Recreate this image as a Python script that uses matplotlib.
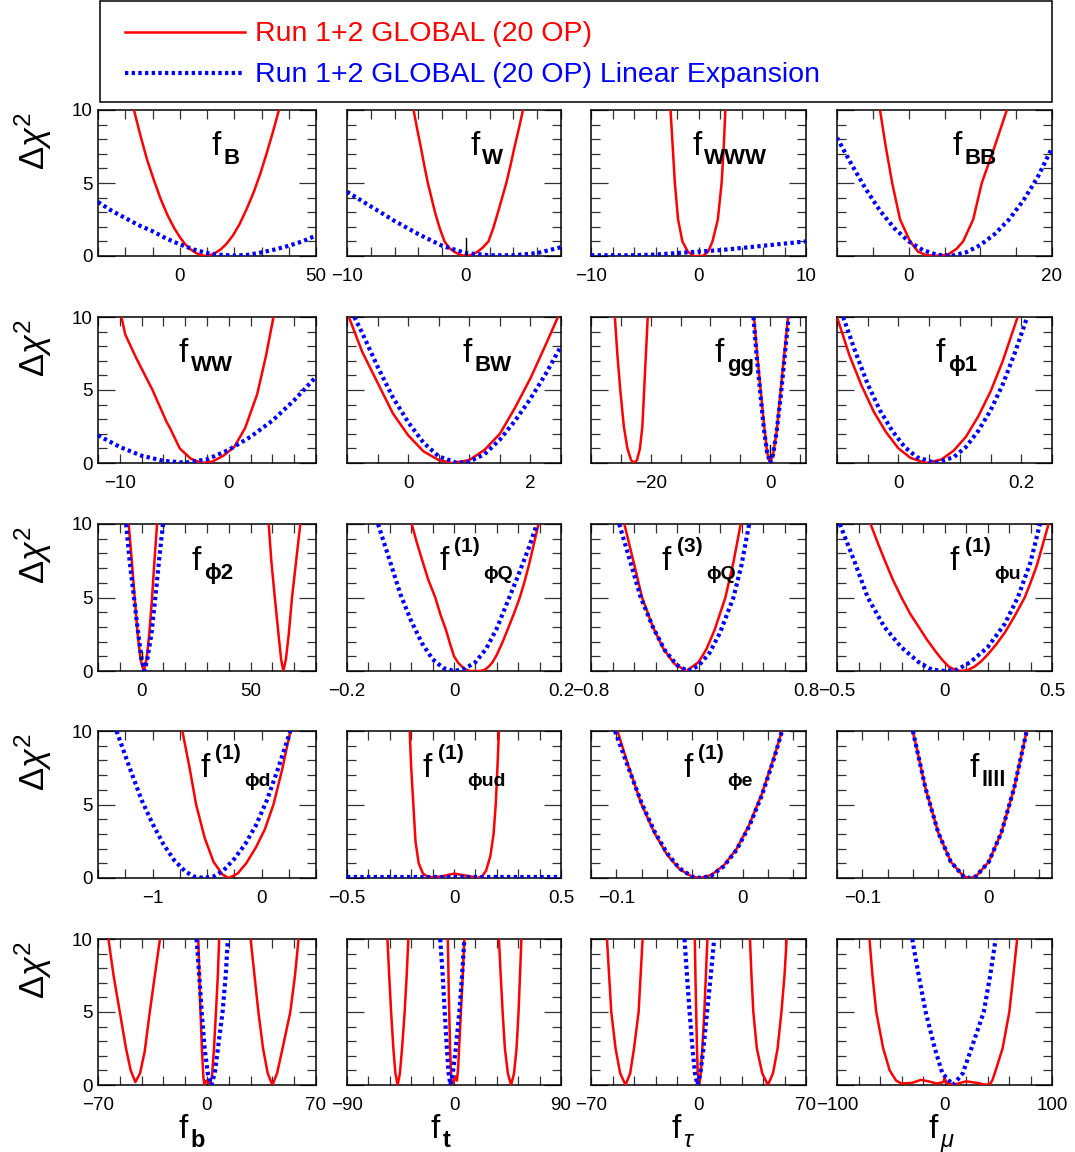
import matplotlib
matplotlib.use('Agg')
import matplotlib.pyplot as plt
from matplotlib.lines import Line2D
from matplotlib.patches import Rectangle
from matplotlib.transforms import offset_copy

plt.rcParams['font.family'] = ['Liberation Sans', 'DejaVu Sans']
plt.rcParams['mathtext.fontset'] = 'custom'
plt.rcParams['mathtext.rm'] = 'Liberation Sans'
plt.rcParams['mathtext.it'] = 'Liberation Sans:italic'
plt.rcParams['mathtext.bf'] = 'Liberation Sans:bold'
plt.rcParams['mathtext.sf'] = 'Liberation Sans'
plt.rcParams['axes.unicode_minus'] = True

RED = '#ff0000'
BLUE = '#0000ff'

# ---------------- data ----------------
legend_labels = ['Run 1+2 GLOBAL (20 OP)', 'Run 1+2 GLOBAL (20 OP) Linear Expansion']
ytick_vals = [0, 5, 10]

# 1 f_B
fB_red_x = [-16.8, -14.5, -12, -9.5, -7, -4.5, -2, 0, 2, 4, 6, 8, 9.5, 11, 13, 15, 17, 19.5, 22, 24.5, 27, 29.5, 32, 34.2, 36.4]
fB_red_y = [10, 8.3, 6.6, 5.2, 3.9, 2.8, 1.9, 1.3, 0.8, 0.45, 0.2, 0.05, 0, 0.05, 0.2, 0.45, 0.8, 1.4, 2.2, 3.2, 4.3, 5.6, 7.1, 8.5, 10]
fB_blue_x = [-30, -25, -20, -15, -10, -5, 0, 5, 10, 15, 20, 25, 30, 35, 40, 45, 50]
fB_blue_y = [3.7, 3.1, 2.6, 2.1, 1.7, 1.2, 0.8, 0.45, 0.2, 0.08, 0.03, 0.08, 0.25, 0.45, 0.7, 1.0, 1.4]
# 2 f_W
fW_red_x = [-4.4, -4.1, -3.8, -3.5, -3.2, -2.9, -2.6, -2.2, -1.8, -1.4, -1.0, -0.5, 0, 0.5, 1.0, 1.45, 1.9, 2.3, 2.7, 3.05, 3.4, 3.75, 4.1, 4.45, 4.8]
fW_red_y = [10, 8.7, 7.5, 6.2, 5, 4.0, 3, 1.9, 1, 0.55, 0.3, 0.08, 0, 0.08, 0.3, 0.6, 1, 1.9, 3, 4.0, 5, 6.2, 7.5, 8.7, 10]
fW_blue_x = [-10, -8, -6, -4, -2, 0, 2, 4, 6, 8]
fW_blue_y = [4.4, 3.4, 2.4, 1.5, 0.7, 0.2, 0.05, 0.05, 0.2, 0.6]
# 3 f_WWW
fWWW_red_x = [-2.6, -2.4, -2.2, -1.9, -1.5, -1.0, -0.4, 0.4, 0.9, 1.3, 1.8, 2.15, 2.35, 2.5]
fWWW_red_y = [10, 7.5, 5, 2.5, 1, 0.3, 0, 0, 0.3, 1, 2.5, 5, 7.5, 10]
fWWW_blue_x = [-10, -8, -6, -4, -2, 0, 2, 4, 6, 8, 10]
fWWW_blue_y = [0.05, 0.05, 0.05, 0.1, 0.2, 0.3, 0.4, 0.55, 0.7, 0.85, 1.0]
# 4 f_BB
fBB_red_x = [-4.0, -3.2, -2.3, -1.2, 0.2, 1.3, 2.5, 4.0, 5.5, 6.7, 7.6, 9.0, 10.2, 12.0, 13.7]
fBB_red_y = [10, 7.5, 5, 2.5, 1, 0.3, 0.05, 0.02, 0.1, 0.5, 1, 2.5, 5, 7.5, 10]
fBB_blue_x = [-10, -8, -6, -4, -2, 0, 2, 4, 6, 8, 10, 12, 14, 16, 18, 20]
fBB_blue_y = [8.1, 6.3, 4.6, 3.1, 1.9, 1.0, 0.4, 0.08, 0.02, 0.25, 0.75, 1.5, 2.5, 3.8, 5.4, 7.4]
# 5 f_WW
fWW_red_x = [-9.85, -9.5, -8.5, -7.0, -5.7, -5.4, -4.5, -3.5, -2.5, -1.5, -0.5, 0.5, 1.5, 2.6, 3.4, 4.1]
fWW_red_y = [10, 8.8, 7.2, 5.0, 2.8, 2.4, 1.0, 0.3, 0, 0.1, 0.5, 1.1, 2.4, 4.7, 7.3, 10]
fWW_blue_x = [-12, -10, -8, -6, -4, -2, 0, 2, 4, 6, 8]
fWW_blue_y = [1.9, 1.1, 0.5, 0.15, 0.02, 0.25, 0.9, 1.8, 2.9, 4.3, 5.9]
# 6 f_BW
fBW_red_x = [-0.97, -0.75, -0.5, -0.25, 0, 0.25, 0.5, 0.72, 1.0, 1.25, 1.5, 1.75, 2.0, 2.25, 2.45]
fBW_red_y = [10, 7.6, 5.5, 3.4, 1.9, 0.8, 0.2, 0, 0.2, 0.9, 2.0, 3.8, 5.8, 8.1, 10]
fBW_blue_x = [-0.88, -0.75, -0.5, -0.25, 0, 0.25, 0.5, 0.8, 1.0, 1.25, 1.5, 1.75, 2.0, 2.25, 2.5]
fBW_blue_y = [10, 8.9, 6.6, 4.5, 2.8, 1.4, 0.45, 0, 0.1, 0.6, 1.6, 2.9, 4.4, 6.1, 8.0]
# 7 f_gg
fgg_red1_x = [-26, -25.6, -25.1, -24.5, -23.9, -23.3, -22.8, -22.3, -21.8, -21.4, -21.1, -20.8, -20.5]
fgg_red1_y = [10, 7.5, 5, 2.5, 1, 0.2, 0, 0.2, 1, 2.5, 5, 7.5, 10]
fgg_red2_x = [-2.7, -2.2, -1.6, -1.0, -0.5, 0, 0.5, 1.1, 1.7, 2.3, 3.0]
fgg_red2_y = [10, 7.5, 5, 2.5, 0.7, 0, 0.6, 2.2, 4.7, 7.2, 10]
fgg_blue_x = [-2.8, -2.3, -1.7, -1.1, -0.5, 0, 0.5, 1.1, 1.8, 2.4, 3.1]
fgg_blue_y = [10, 7.5, 5, 2.5, 0.7, 0, 0.6, 2.2, 4.7, 7.2, 10]
# 8 f_phi1
fphi1_red_x = [-0.1, -0.08, -0.06, -0.04, -0.02, 0, 0.02, 0.045, 0.07, 0.09, 0.11, 0.13, 0.15, 0.17, 0.194]
fphi1_red_y = [10, 7.4, 5.3, 3.5, 2.1, 1.0, 0.34, 0, 0.24, 0.85, 1.8, 3.2, 4.9, 7.0, 10]
fphi1_blue_x = [-0.09, -0.07, -0.05, -0.03, -0.01, 0.01, 0.03, 0.06, 0.09, 0.11, 0.13, 0.15, 0.17, 0.19, 0.208]
fphi1_blue_y = [10, 7.6, 5.4, 3.6, 2.2, 1.1, 0.4, 0, 0.4, 1.1, 2.2, 3.6, 5.4, 7.6, 9.8]
# 9 f_phi2
fphi2_red1_x = [-5.9, -4.5, -3.2, -1.8, -0.5, 1.0, 2.3, 3.5, 4.8, 5.9, 7.1]
fphi2_red1_y = [10, 7.5, 5, 2.5, 0.8, 0, 0.8, 2.5, 5, 7.5, 10]
fphi2_red2_x = [58.3, 59.5, 61.1, 62.8, 64.0, 65.0, 66.2, 67.5, 69.0, 70.9, 72.8]
fphi2_red2_y = [10, 7.5, 5, 2.5, 0.8, 0, 0.8, 2.5, 5, 7.5, 10]
fphi2_blue_x = [-7.1, -5.5, -3.5, -1.5, 0.0, 1.3, 2.6, 4.5, 6.3, 8.0, 9.8]
fphi2_blue_y = [10, 7.5, 5, 2.5, 0.8, 0, 0.8, 2.5, 5, 7.5, 10]
# 10 f(1)_phiQ
fphiQ1_red_x = [-0.079, -0.07, -0.06, -0.048, -0.035, -0.025, -0.015, -0.007, 0.0, 0.008, 0.015, 0.022, 0.03, 0.05, 0.058, 0.065, 0.072, 0.08, 0.09, 0.1, 0.112, 0.123, 0.132, 0.14, 0.149, 0.158]
fphiQ1_red_y = [10, 8.8, 7.6, 6.2, 5, 3.8, 2.8, 1.8, 1.0, 0.55, 0.3, 0.1, 0, 0, 0.1, 0.3, 0.6, 1.1, 1.9, 2.8, 3.9, 5, 6.1, 7.2, 8.6, 10]
fphiQ1_blue_x = [-0.142, -0.12, -0.1, -0.08, -0.06, -0.04, -0.02, 0, 0.02, 0.04, 0.06, 0.08, 0.1, 0.12, 0.14, 0.155]
fphiQ1_blue_y = [10, 7.5, 5.2, 3.4, 1.9, 0.8, 0.2, 0, 0.15, 0.6, 1.5, 2.9, 4.7, 6.5, 8.4, 10]
# 11 f(3)_phiQ
fphiQ3_red_x = [-0.552, -0.48, -0.42, -0.34, -0.26, -0.18, -0.09, 0.0, 0.06, 0.12, 0.2, 0.26, 0.314]
fphiQ3_red_y = [10, 7.3, 5, 3, 1.5, 0.5, 0, 0.6, 1.5, 2.8, 5, 7.4, 10]
fphiQ3_blue_x = [-0.59, -0.5, -0.43, -0.34, -0.25, -0.16, -0.08, 0.0, 0.08, 0.16, 0.26, 0.32, 0.377]
fphiQ3_blue_y = [10, 7.2, 5, 3, 1.4, 0.4, 0, 0.35, 1.2, 2.6, 5, 7.2, 10]
# 12 f(1)_phiu
fphiu_red_x = [-0.344, -0.31, -0.28, -0.24, -0.2, -0.16, -0.12, -0.08, -0.04, -0.01, 0.02, 0.05, 0.08, 0.11, 0.14, 0.17, 0.2, 0.24, 0.28, 0.325, 0.373, 0.4, 0.43, 0.457, 0.484]
fphiu_red_y = [10, 8.7, 7.6, 6.2, 5, 3.9, 3, 2.1, 1.3, 0.75, 0.3, 0.07, 0, 0.07, 0.3, 0.65, 1.1, 1.8, 2.6, 3.7, 5, 6.0, 7.2, 8.6, 10]
fphiu_blue_x = [-0.487, -0.42, -0.357, -0.28, -0.2, -0.12, -0.06, 0, 0.06, 0.12, 0.2, 0.28, 0.341, 0.4, 0.444]
fphiu_blue_y = [10, 7.5, 5, 3, 1.6, 0.6, 0.1, 0, 0.1, 0.6, 1.6, 3.2, 5, 7.4, 10]
# 13 f(1)_phid
fphid_red_x = [-0.726, -0.66, -0.6, -0.52, -0.44, -0.36, -0.3, -0.22, -0.14, -0.05, 0.03, 0.11, 0.19, 0.265]
fphid_red_y = [10, 7.5, 5, 2.7, 1.1, 0.25, 0, 0.3, 1.0, 2.1, 3.3, 5, 7.4, 10]
fphid_blue_x = [-1.33, -1.2, -1.1, -1.0, -0.9, -0.8, -0.7, -0.62, -0.53, -0.44, -0.35, -0.25, -0.15, -0.05, 0.05, 0.15, 0.265]
fphid_blue_y = [10, 7.3, 5.3, 3.7, 2.3, 1.2, 0.45, 0.1, 0, 0.1, 0.5, 1.3, 2.3, 3.6, 5.3, 7.4, 10]
# 14 f(1)_phiud
fphiud_red_x = [-0.207, -0.2, -0.19, -0.18, -0.165, -0.145, -0.12, -0.06, 0, 0.06, 0.11, 0.13, 0.15, 0.17, 0.185, 0.195, 0.203, 0.21]
fphiud_red_y = [10, 7.5, 5, 2.5, 1, 0.3, 0.05, 0.1, 0.3, 0.15, 0.02, 0.1, 0.5, 1.5, 3.0, 5, 7.5, 10]
fphiud_blue_x = [-0.5, -0.4, -0.3, -0.2, -0.1, 0, 0.1, 0.2, 0.3, 0.4, 0.5]
fphiud_blue_y = [0.05, 0.05, 0.05, 0.05, 0.05, 0.05, 0.05, 0.05, 0.05, 0.05, 0.05]
# 15 f(1)_phie
fphie_red_x = [-0.099, -0.09, -0.08, -0.07, -0.06, -0.05, -0.04, -0.034, -0.025, -0.015, -0.005, 0.005, 0.015, 0.025, 0.031]
fphie_red_y = [10, 7.5, 5.0, 3.1, 1.6, 0.6, 0.09, 0, 0.2, 0.86, 1.96, 3.6, 5.7, 8.3, 10]
fphie_blue_x = [-0.101, -0.09, -0.08, -0.07, -0.06, -0.05, -0.04, -0.033, -0.025, -0.015, -0.005, 0.005, 0.015, 0.025, 0.031]
fphie_blue_y = [10, 7.4, 5.1, 3.2, 1.7, 0.65, 0.1, 0, 0.15, 0.8, 1.9, 3.5, 5.6, 8.2, 10]
# 16 f_llll
fllll_red_x = [-0.06, -0.05, -0.04, -0.03, -0.02, -0.015, -0.01, 0, 0.01, 0.02, 0.03]
fllll_red_y = [10, 6.1, 3.1, 1.1, 0.12, 0, 0.12, 1.1, 3.1, 6.1, 10]
fllll_blue_x = [-0.06, -0.05, -0.04, -0.03, -0.02, -0.015, -0.01, 0, 0.01, 0.02, 0.03]
fllll_blue_y = [10, 6.1, 3.1, 1.1, 0.12, 0, 0.12, 1.1, 3.1, 6.1, 10]
# 17 f_b
fb_red1_x = [-63.3, -60, -56, -52, -49, -46, -43, -40, -37, -33.5, -30.2]
fb_red1_y = [10, 7.5, 5, 2.5, 1.0, 0.2, 0.8, 2.3, 4.8, 7.5, 10]
fb_red2_x = [-5.6, -4.5, -3.3, -2.3, -1.6, -0.5, 0.5, 2.0, 3.2, 4.5, 6.0, 7.0, 7.8]
fb_red2_y = [10, 6, 2.5, 0.5, 0, 0.3, 0.2, 0.1, 0.6, 2.5, 5.5, 7.6, 10]
fb_red3_x = [28, 30.5, 33, 36, 39, 42, 45, 48.5, 53.5, 56.5, 58.8]
fb_red3_y = [10, 7.5, 5, 2.5, 0.8, 0, 0.8, 2.5, 5, 7.5, 10]
fb_blue_x = [-6.7, -5.0, -3.4, -1.5, 0.5, 2.7, 5.0, 7.0, 10.0, 12.0, 13.4]
fb_blue_y = [10, 7.5, 5, 2.5, 0.8, 0, 0.8, 2.5, 5, 7.5, 10]
# 18 f_t
ft_red1_x = [-56, -54.5, -52.9, -51, -49.3, -47.4, -45.5, -43.7, -41.5, -39.8, -38.4]
ft_red1_y = [10, 7.5, 5, 2.5, 0.8, 0, 0.8, 2.5, 5, 7.5, 10]
ft_red2_x = [-5.2, -4.3, -3.3, -2.3, -1.5, 0, 1.5, 2.5, 3.5, 5.5, 7.3, 8.7]
ft_red2_y = [10, 6, 2.5, 0.5, 0, 0.3, 0.6, 0.3, 1.2, 4.5, 7.5, 10]
ft_red3_x = [37.8, 39.3, 40.9, 42.8, 45.3, 48, 50.5, 52.6, 54.3, 55.5, 56.7]
ft_red3_y = [10, 7.5, 5, 2.5, 0.8, 0, 0.8, 2.5, 5, 7.5, 10]
ft_blue_x = [-11.6, -9.5, -7.8, -6, -4.5, -3, -1, 1.5, 4.5, 6.8, 8.7]
ft_blue_y = [10, 7.5, 5, 2.5, 0.8, 0, 0.8, 2.5, 5, 7.5, 10]
# 19 f_tau
ftau_red1_x = [-59.6, -58.2, -56.8, -54, -51, -47.5, -44.5, -42, -39, -37.7, -36.4]
ftau_red1_y = [10, 7.5, 5, 2.5, 0.8, 0, 0.8, 2.5, 5, 7.5, 10]
ftau_red2_x = [-2.4, -2.0, -1.5, -1.0, -0.5, 0.5, 1.5, 2.5, 3.8, 4.8, 5.8]
ftau_red2_y = [10, 7.5, 5, 2.5, 0.8, 0, 0.8, 2.5, 5, 7.5, 10]
ftau_red3_x = [33.5, 34.5, 35.7, 38, 41.5, 45.2, 48.5, 51.5, 54, 56, 57.4]
ftau_red3_y = [10, 7.5, 5, 2.5, 0.8, 0, 0.8, 2.5, 5, 7.5, 10]
ftau_blue_x = [-9.1, -7.5, -5.8, -3.9, -2.3, -0.7, 1.2, 3.2, 5.6, 8.0, 10.2]
ftau_blue_y = [10, 7.5, 5, 2.5, 0.8, 0, 0.8, 2.5, 5, 7.5, 10]
# 20 f_mu
fmu_red_x = [-69.8, -67, -63.5, -57, -51, -45, -40, -30, -22, -15, -7, -1, 0, 2, 10, 20, 30, 38, 42, 44.4, 47.6, 54, 60.3, 64, 67.6]
fmu_red_y = [10, 7.5, 5, 2.5, 1, 0.3, 0.1, 0.15, 0.35, 0.25, 0.1, 0.2, 0.5, 0.1, 0.05, 0.25, 0.15, 0.02, 0.05, 0.3, 1, 2.5, 5, 7.5, 10]
fmu_blue_x = [-30, -24, -17.5, -9, -2, 8, 17, 25, 36.5, 42.5, 47.6]
fmu_blue_y = [10, 7.5, 5, 2.5, 0.8, 0, 0.8, 2.5, 5, 7.5, 10]

# small black marks at the origin (panel index, x, y_low, y_high)
origin_marks = [(1, 0, 0, 1.2), (6, 0, 0.45, 1.25), (8, 0, 0.85, 1.3)]

M = '\u2212'
PHI = '\u03d5'
panels = [
    dict(sub='B', tx=0.52, xlim=(-30, 50), step=10, lab=[(0, '0'), (50, '50')],
         red=[(fB_red_x, fB_red_y)], blue=[(fB_blue_x, fB_blue_y)]),
    dict(sub='W', tx=0.575, xlim=(-10, 8), step=2, lab=[(-10, M + '10'), (0, '0')],
         red=[(fW_red_x, fW_red_y)], blue=[(fW_blue_x, fW_blue_y)]),
    dict(sub='WWW', tx=0.47, xlim=(-10, 10), step=2, lab=[(-10, M + '10'), (0, '0'), (10, '10')],
         red=[(fWWW_red_x, fWWW_red_y)], blue=[(fWWW_blue_x, fWWW_blue_y)]),
    dict(sub='BB', tx=0.535, xlim=(-10, 20), step=5, lab=[(0, '0'), (20, '20')],
         red=[(fBB_red_x, fBB_red_y)], blue=[(fBB_blue_x, fBB_blue_y)]),
    dict(sub='WW', tx=0.37, xlim=(-12, 8), step=2, lab=[(-10, M + '10'), (0, '0')],
         red=[(fWW_red_x, fWW_red_y)], blue=[(fWW_blue_x, fWW_blue_y)]),
    dict(sub='BW', tx=0.54, xlim=(-1, 2.5), step=0.5, lab=[(0, '0'), (2, '2')],
         red=[(fBW_red_x, fBW_red_y)], blue=[(fBW_blue_x, fBW_blue_y)]),
    dict(sub='gg', tx=0.575, xlim=(-30, 6), step=5, lab=[(-20, M + '20'), (0, '0')],
         red=[(fgg_red1_x, fgg_red1_y), (fgg_red2_x, fgg_red2_y)], blue=[(fgg_blue_x, fgg_blue_y)]),
    dict(sub=PHI + '1', tx=0.46, xlim=(-0.1, 0.25), step=0.05, lab=[(0, '0'), (0.2, '0.2')],
         red=[(fphi1_red_x, fphi1_red_y)], blue=[(fphi1_blue_x, fphi1_blue_y)]),
    dict(sub=PHI + '2', tx=0.43, xlim=(-20, 80), step=10, lab=[(0, '0'), (50, '50')],
         red=[(fphi2_red1_x, fphi2_red1_y), (fphi2_red2_x, fphi2_red2_y)], blue=[(fphi2_blue_x, fphi2_blue_y)]),
    dict(sup='(1)', sub=PHI + 'Q', tx=0.43, xlim=(-0.2, 0.2), step=0.04,
         lab=[(-0.2, M + '0.2'), (0, '0'), (0.2, '0.2')],
         red=[(fphiQ1_red_x, fphiQ1_red_y)], blue=[(fphiQ1_blue_x, fphiQ1_blue_y)]),
    dict(sup='(3)', sub=PHI + 'Q', tx=0.33, xlim=(-0.8, 0.8), step=0.16,
         lab=[(-0.8, M + '0.8'), (0, '0'), (0.8, '0.8')],
         red=[(fphiQ3_red_x, fphiQ3_red_y)], blue=[(fphiQ3_blue_x, fphiQ3_blue_y)]),
    dict(sup='(1)', sub=PHI + 'u', tx=0.525, xlim=(-0.5, 0.5), step=0.1,
         lab=[(-0.5, M + '0.5'), (0, '0'), (0.5, '0.5')],
         red=[(fphiu_red_x, fphiu_red_y)], blue=[(fphiu_blue_x, fphiu_blue_y)]),
    dict(sup='(1)', sub=PHI + 'd', tx=0.47, xlim=(-1.5, 0.5), step=0.25,
         lab=[(-1, M + '1'), (0, '0')],
         red=[(fphid_red_x, fphid_red_y)], blue=[(fphid_blue_x, fphid_blue_y)]),
    dict(sup='(1)', sub=PHI + 'ud', tx=0.355, xlim=(-0.5, 0.5), step=0.1,
         lab=[(-0.5, M + '0.5'), (0, '0'), (0.5, '0.5')],
         red=[(fphiud_red_x, fphiud_red_y)], blue=[(fphiud_blue_x, fphiud_blue_y)]),
    dict(sup='(1)', sub=PHI + 'e', tx=0.43, xlim=(-0.12, 0.05), step=0.02,
         lab=[(-0.1, M + '0.1'), (0, '0')],
         red=[(fphie_red_x, fphie_red_y)], blue=[(fphie_blue_x, fphie_blue_y)]),
    dict(sub='llll', tx=0.615, xlim=(-0.12, 0.05), step=0.02,
         lab=[(-0.1, M + '0.1'), (0, '0')],
         red=[(fllll_red_x, fllll_red_y)], blue=[(fllll_blue_x, fllll_blue_y)]),
    dict(xsub='b', xlx=0.37, xlim=(-70, 70), step=14,
         lab=[(-70, M + '70'), (0, '0'), (70, '70')],
         red=[(fb_red1_x, fb_red1_y), (fb_red2_x, fb_red2_y), (fb_red3_x, fb_red3_y)], blue=[(fb_blue_x, fb_blue_y)]),
    dict(xsub='t', xlx=0.39, xlim=(-90, 90), step=18,
         lab=[(-90, M + '90'), (0, '0'), (90, '90')],
         red=[(ft_red1_x, ft_red1_y), (ft_red2_x, ft_red2_y), (ft_red3_x, ft_red3_y)], blue=[(ft_blue_x, ft_blue_y)]),
    dict(xsub='\u03c4', xital=True, xlx=0.375, xlim=(-70, 70), step=14,
         lab=[(-70, M + '70'), (0, '0'), (70, '70')],
         red=[(ftau_red1_x, ftau_red1_y), (ftau_red2_x, ftau_red2_y), (ftau_red3_x, ftau_red3_y)], blue=[(ftau_blue_x, ftau_blue_y)]),
    dict(xsub='\u03bc', xital=True, xlx=0.425, xlim=(-100, 100), step=20,
         lab=[(-100, M + '100'), (0, '0'), (100, '100')],
         red=[(fmu_red_x, fmu_red_y)], blue=[(fmu_blue_x, fmu_blue_y)]),
]

# ---------------- layout ----------------
W, H = 1075, 1152
fig = plt.figure(figsize=(W / 100, H / 100), dpi=100)
col_px = [(98, 316), (347, 561), (591, 806), (837, 1052)]
row_px = [(110, 256), (317, 463), (524, 671), (731, 878), (939, 1085)]

RED_LW = 1.8
BLUE_LW = 3.0
BLUE_LS = (0, (0.8, 0.8))


def fname(ax, x, y, sub, sup=None, ital=False, subsize=16):
    ax.text(x, y, 'f', transform=ax.transAxes, fontsize=24, ha='left', va='baseline', zorder=6)
    if sup:
        ax.text(x, y, sup, transform=offset_copy(ax.transAxes, fig=fig, x=15, y=18, units='dots'),
                fontsize=15, fontweight='bold', ha='left', va='baseline', zorder=6)
        ax.text(x, y, sub, transform=offset_copy(ax.transAxes, fig=fig, x=44, y=-9, units='dots'),
                fontsize=14, fontweight='bold', ha='left', va='baseline', zorder=6)
    else:
        ax.text(x, y, sub, transform=offset_copy(ax.transAxes, fig=fig, x=12, y=-9, units='dots'),
                fontsize=subsize, fontweight='normal' if ital else 'bold',
                fontstyle='italic' if ital else 'normal', ha='left', va='baseline', zorder=6)


axes = []
for i, p in enumerate(panels):
    r, c = divmod(i, 4)
    x0, x1 = col_px[c]
    y0, y1 = row_px[r]
    ax = fig.add_axes([x0 / W, 1 - y1 / H, (x1 - x0) / W, (y1 - y0) / H])
    axes.append(ax)
    for xs, ys in p['red']:
        ax.plot(xs, ys, color=RED, lw=RED_LW, solid_joinstyle='round', zorder=3)
    for xs, ys in p['blue']:
        ax.plot(xs, ys, color=BLUE, lw=BLUE_LW, linestyle=BLUE_LS, dash_capstyle='butt', zorder=4)
    lo, hi = p['xlim']
    ax.set_xlim(lo, hi)
    ax.set_ylim(0, 10)
    st = p['step']
    n = int(round((hi - lo) / st))
    minor = [lo + k * st for k in range(n + 1)]
    ax.set_xticks([v for v, _ in p['lab']])
    ax.set_xticklabels([s for _, s in p['lab']])
    ax.set_xticks(minor, minor=True)
    ax.set_yticks(ytick_vals)
    ax.set_yticks(range(0, 11), minor=True)
    if c == 0:
        ax.set_yticklabels([str(v) for v in ytick_vals])
        ax.text(-0.298, 0.985, r'$\Delta\chi^{2}$', transform=ax.transAxes, rotation=90,
                ha='center', va='top', fontsize=25)
    else:
        ax.set_yticklabels([])
    ax.tick_params(axis='both', which='both', direction='in', top=True, right=True,
                   color='#333333', width=0.9, labelsize=13.5)
    ax.tick_params(axis='x', which='both', length=6.5, pad=8.5)
    ax.tick_params(axis='y', which='major', length=12.5, pad=4)
    ax.tick_params(axis='y', which='minor', length=6.5)
    for sp in ax.spines.values():
        sp.set_linewidth(1.1)
    if 'sub' in p:
        fname(ax, p['tx'], 0.69, p['sub'], p.get('sup'))
    if 'xsub' in p:
        fname(ax, p['xlx'], -0.36, p['xsub'], ital=p.get('xital', False), subsize=17)

for idx, xm, ylo, yhi in origin_marks:
    axes[idx].plot([xm, xm], [ylo, yhi], color='black', lw=1.0, zorder=5)

# ---------------- legend box ----------------
fig.add_artist(Rectangle((100 / W, 1 - 102 / H), 952 / W, 101 / H, transform=fig.transFigure,
                         fill=False, edgecolor='black', lw=1.1))
fig.add_artist(Line2D([125 / W, 245 / W], [1 - 32 / H, 1 - 32 / H], transform=fig.transFigure,
                      color=RED, lw=RED_LW))
fig.add_artist(Line2D([125 / W, 245 / W], [1 - 73 / H, 1 - 73 / H], transform=fig.transFigure,
                      color=BLUE, lw=BLUE_LW, linestyle=BLUE_LS, dash_capstyle='butt'))
fig.text(255 / W, 1 - 34 / H, legend_labels[0], color=RED, fontsize=20.5, ha='left', va='center')
fig.text(255 / W, 1 - 75 / H, legend_labels[1], color=BLUE, fontsize=20.5, ha='left', va='center')

fig.savefig('out.png', dpi=100)
